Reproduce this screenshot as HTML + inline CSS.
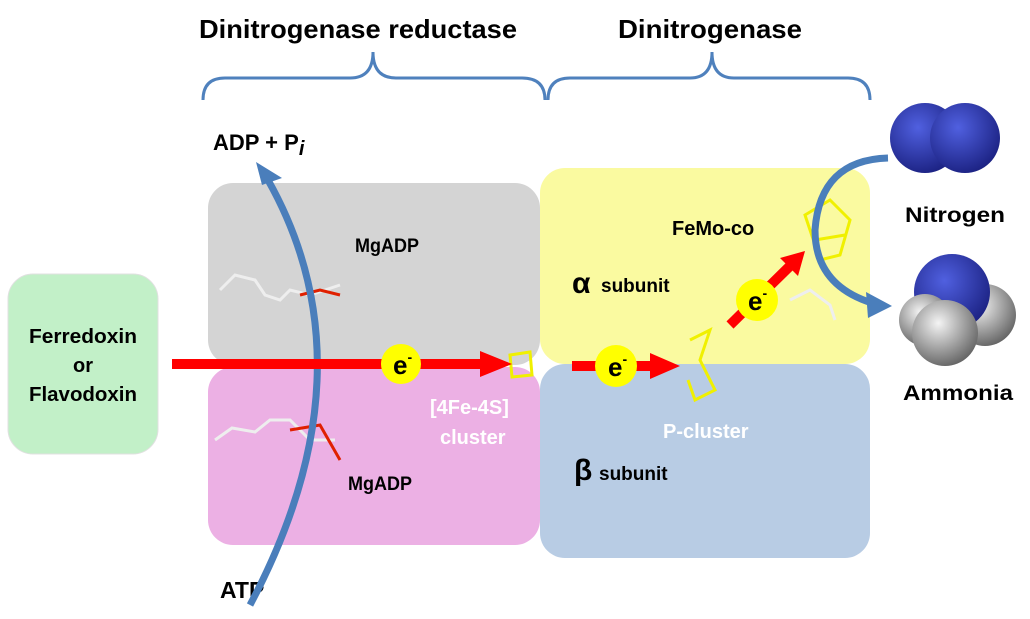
<!DOCTYPE html>
<html><head><style>
body{margin:0;background:#fff;}
svg text{font-family:"Liberation Sans",sans-serif;font-weight:bold;}
</style></head><body>
<svg width="1030" height="614" viewBox="0 0 1030 614" xmlns="http://www.w3.org/2000/svg">
<defs>
<radialGradient id="nb" cx="0.4" cy="0.35" r="0.7"><stop offset="0" stop-color="#5060e0"/><stop offset="1" stop-color="#1a2080"/></radialGradient>
<radialGradient id="hg" cx="0.4" cy="0.35" r="0.7"><stop offset="0" stop-color="#f4f4f4"/><stop offset="1" stop-color="#606060"/></radialGradient>
</defs>
<text x="358" y="38" font-size="26" text-anchor="middle" textLength="318" lengthAdjust="spacingAndGlyphs">Dinitrogenase reductase</text>
<text x="710" y="38" font-size="26" text-anchor="middle" textLength="184" lengthAdjust="spacingAndGlyphs">Dinitrogenase</text>
<path d="M203 100 Q203 78 225 78 L350 78 Q373 78 373 52 Q373 78 396 78 L522 78 Q545 78 545 100" fill="none" stroke="#4f81bd" stroke-width="3"/>
<path d="M548 100 Q548 78 570 78 L690 78 Q712 78 712 52 Q712 78 734 78 L848 78 Q870 78 870 100" fill="none" stroke="#4f81bd" stroke-width="3"/>
<rect x="8" y="274" width="150" height="180" rx="25" fill="#c2f0c8" stroke="#e0e0e0"/>
<rect x="208" y="183" width="332" height="182" rx="25" fill="#d4d4d4"/>
<rect x="208" y="367" width="332" height="178" rx="25" fill="#ecb0e4"/>
<rect x="540" y="168" width="330" height="196" rx="25" fill="#fafaa0"/>
<rect x="540" y="364" width="330" height="194" rx="25" fill="#b8cce4"/>
<text x="83" y="343" font-size="20" text-anchor="middle" textLength="108" lengthAdjust="spacingAndGlyphs">Ferredoxin</text>
<text x="83" y="372" font-size="20" text-anchor="middle">or</text>
<text x="83" y="401" font-size="20" text-anchor="middle" textLength="108" lengthAdjust="spacingAndGlyphs">Flavodoxin</text>
<text x="355" y="252" font-size="19" textLength="64" lengthAdjust="spacingAndGlyphs">MgADP</text>
<text x="348" y="490" font-size="19" textLength="64" lengthAdjust="spacingAndGlyphs">MgADP</text>
<text x="430" y="414" font-size="20" fill="#fff">[4Fe-4S]</text>
<text x="440" y="444" font-size="20" fill="#fff">cluster</text>
<text x="672" y="235" font-size="20">FeMo-co</text>
<text x="572" y="293" font-size="30" font-family="Liberation Serif" font-weight="normal">α</text>
<text x="601" y="292" font-size="19">subunit</text>
<text x="663" y="438" font-size="20" fill="#fff">P-cluster</text>
<text x="574" y="480" font-size="30" font-family="Liberation Serif" font-weight="normal">β</text>
<text x="599" y="480" font-size="19">subunit</text>
<text x="213" y="150" font-size="22">ADP + P<tspan font-style="italic" font-size="20" dy="5">i</tspan></text>
<text x="220" y="598" font-size="23">ATP</text>
<text x="905" y="222" font-size="21" textLength="100" lengthAdjust="spacingAndGlyphs">Nitrogen</text>
<text x="903" y="400" font-size="21" textLength="110" lengthAdjust="spacingAndGlyphs">Ammonia</text>
<g stroke-width="3" fill="none">
<path d="M220 290 L235 275 L255 280 L265 295 L280 300 L290 290 L310 295 L340 285" stroke="#eee"/>
<path d="M300 295 L320 290 L340 295" stroke="#e02000"/>
<path d="M215 440 L232 428 L255 432 L270 420 L290 420 L310 440 L335 440" stroke="#eee"/>
<path d="M290 430 L320 425 L340 460" stroke="#e02000"/>
<path d="M510 355 L530 352 L532 375 L512 377 Z" stroke="#f0f000"/>
<path d="M690 340 L710 330 L700 360 L715 390 L695 400 L688 380" stroke="#f0f000"/>
<path d="M805 215 L830 200 L850 220 L840 255 L820 260 Z M815 240 L845 235" stroke="#f0f000"/>
<path d="M790 300 L810 290 L830 305 L835 320" stroke="#eee"/>
</g>
<path d="M250 605 Q375 370 268 180" fill="none" stroke="#4a7ebb" stroke-width="7"/>
<path d="M256 162 L282 178 L262 185 Z" fill="#4a7ebb"/>
<path d="M888 158 Q820 160 815 230 Q815 285 872 303" fill="none" stroke="#4a7ebb" stroke-width="7"/>
<path d="M892 306 L866 292 L868 318 Z" fill="#4a7ebb"/>
<rect x="172" y="359" width="312" height="10" fill="#ff0000"/>
<path d="M480 351 L512 364 L480 377 Z" fill="#ff0000"/>
<circle cx="401" cy="364" r="20" fill="#ffff00"/>
<text x="393" y="374" font-size="26">e<tspan font-size="14" dy="-12">-</tspan></text>
<rect x="572" y="361" width="82" height="10" fill="#ff0000"/>
<path d="M650 353 L680 366 L650 379 Z" fill="#ff0000"/>
<circle cx="616" cy="366" r="21" fill="#ffff00"/>
<text x="608" y="376" font-size="26">e<tspan font-size="14" dy="-12">-</tspan></text>
<line x1="730" y1="325" x2="790" y2="266" stroke="#ff0000" stroke-width="10"/>
<path d="M805 251 L780 258 L798 276 Z" fill="#ff0000"/>
<circle cx="757" cy="300" r="21" fill="#ffff00"/>
<text x="748" y="310" font-size="26">e<tspan font-size="14" dy="-12">-</tspan></text>
<circle cx="925" cy="138" r="35" fill="url(#nb)"/>
<circle cx="965" cy="138" r="35" fill="url(#nb)"/>
<circle cx="985" cy="315" r="31" fill="url(#hg)"/>
<circle cx="952" cy="292" r="38" fill="url(#nb)"/>
<circle cx="925" cy="320" r="26" fill="url(#hg)"/>
<circle cx="945" cy="333" r="33" fill="url(#hg)"/>
</svg>
</body></html>
